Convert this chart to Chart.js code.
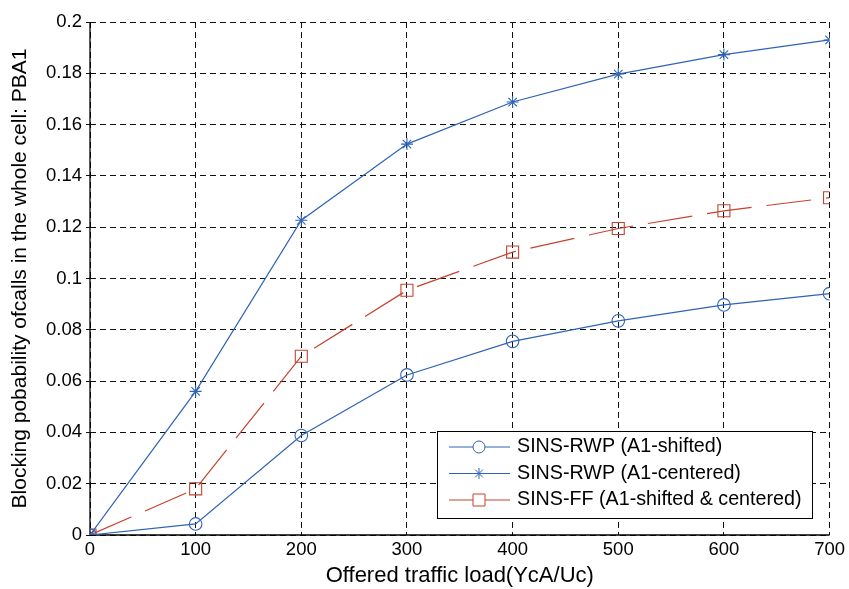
<!DOCTYPE html>
<html>
<head>
<meta charset="utf-8">
<script src="https://cdn.jsdelivr.net/npm/chart.js@4/dist/chart.umd.min.js"></script>
<style>
  html, body { margin: 0; padding: 0; background: #fff; }
  #wrap { width: 849px; height: 589px; position: relative; }
</style>
</head>
<body>
<div id="wrap"><canvas id="c" width="849" height="589"></canvas></div>
<script>
// ---- data ----
const loads = [0, 100, 200, 300, 400, 500, 600, 700];
const rwpShifted  = [0, 0.0043, 0.0388, 0.0624, 0.0755, 0.0835, 0.0897, 0.0941];
const rwpCentered = [0, 0.0560, 0.1227, 0.1524, 0.1688, 0.1797, 0.1873, 0.1930];
const ffBoth      = [0, 0.0180, 0.0697, 0.0954, 0.1103, 0.1195, 0.1264, 0.1315];
const seriesLabels = ['SINS-RWP (A1-shifted)', 'SINS-RWP (A1-centered)', 'SINS-FF (A1-shifted & centered)'];
const xTitle = 'Offered traffic load(YcA/Uc)';
const yTitle = 'Blocking pobability ofcalls in the whole cell: PBA1';
const yMin = 0, yMax = 0.2, yStep = 0.02;
const xMin = 0, xMax = 700, xStep = 100;

const BLUE = '#2f63b6';
const RED = '#c4432f';
const FONT = "'Liberation Sans', Arial, sans-serif";

function toXY(vals) { return vals.map((v, i) => ({ x: loads[i], y: v })); }

// solid left & bottom axis lines (gridlines are dashed)
const axisPlugin = {
  id: 'solidAxes',
  beforeDatasetsDraw(chart) {
    const { ctx, chartArea: a } = chart;
    ctx.save();
    ctx.strokeStyle = '#000';
    ctx.lineWidth = 1.3;
    ctx.setLineDash([]);
    ctx.beginPath();
    ctx.moveTo(a.left, a.top);
    ctx.lineTo(a.left, a.bottom);
    ctx.lineTo(a.right, a.bottom);
    ctx.stroke();
    ctx.restore();
  }
};

const legendPlugin = {
  id: 'matlabLegend',
  afterDraw(chart) {
    const ctx = chart.ctx;
    const bx = 437, by = 431, bw = 375, bh = 87;
    ctx.save();
    ctx.fillStyle = '#fff';
    ctx.fillRect(bx, by, bw, bh);
    ctx.strokeStyle = '#000';
    ctx.lineWidth = 1;
    ctx.strokeRect(bx + 0.5, by + 0.5, bw, bh);
    const rows = [447, 473.5, 500];
    chart.data.datasets.forEach((ds, i) => {
      const y = rows[i];
      ctx.save();
      ctx.strokeStyle = ds.borderColor;
      ctx.lineWidth = 1;
      ctx.beginPath();
      ctx.moveTo(449, y);
      ctx.lineTo(510, y);
      ctx.stroke();
      const cx = 479;
      ctx.beginPath();
      if (ds.pointStyle === 'circle') {
        ctx.arc(cx, y, 6, 0, Math.PI * 2);
        ctx.fillStyle = '#fff';
        ctx.fill();
      } else if (ds.pointStyle === 'rect') {
        ctx.fillStyle = '#fff';
        ctx.fillRect(cx - 6, y - 6, 12, 12);
        ctx.rect(cx - 6, y - 6, 12, 12);
      } else {
        const r = 5.5;
        for (let k = 0; k < 4; k++) {
          const a = k * Math.PI / 4;
          ctx.moveTo(cx - r * Math.cos(a), y - r * Math.sin(a));
          ctx.lineTo(cx + r * Math.cos(a), y + r * Math.sin(a));
        }
      }
      ctx.stroke();
      ctx.restore();
      ctx.fillStyle = '#000';
      ctx.font = '19.7px ' + FONT;
      ctx.textBaseline = 'middle';
      ctx.textAlign = 'left';
      ctx.fillText(ds.label, 517, y);
    });
    ctx.restore();
  }
};

new Chart(document.getElementById('c'), {
  type: 'line',
  data: {
    datasets: [
      {
        label: seriesLabels[0], data: toXY(rwpShifted),
        borderColor: BLUE, backgroundColor: 'transparent', borderWidth: 1.2,
        pointStyle: 'circle', pointRadius: 6.3, pointBorderWidth: 1.1,
        pointBackgroundColor: 'transparent', pointBorderColor: BLUE, tension: 0
      },
      {
        label: seriesLabels[1], data: toXY(rwpCentered),
        borderColor: BLUE, backgroundColor: 'transparent', borderWidth: 1.2,
        pointStyle: 'star', pointRadius: 6, pointBorderWidth: 1.1,
        pointBackgroundColor: 'transparent', pointBorderColor: BLUE, tension: 0
      },
      {
        label: seriesLabels[2], data: toXY(ffBoth),
        borderColor: RED, backgroundColor: 'transparent', borderWidth: 1.2,
        borderDash: [45, 15],
        pointStyle: 'rect', pointRadius: 8.5, pointBorderWidth: 1.1,
        pointBackgroundColor: 'transparent', pointBorderColor: RED, tension: 0
      }
    ]
  },
  options: {
    responsive: false,
    animation: false,
    devicePixelRatio: 1,
    layout: { padding: { left: 0, right: 18, top: 22, bottom: 0 } },
    plugins: { legend: { display: false }, tooltip: { enabled: false } },
    scales: {
      x: {
        type: 'linear', min: xMin, max: xMax,
        ticks: { stepSize: xStep, color: '#000', font: { family: FONT, size: 18.5 }, padding: 4, maxRotation: 0 },
        grid: { color: '#111', lineWidth: 1, drawTicks: false },
        border: { display: false, dash: [6, 4] },
        title: { display: true, text: xTitle, color: '#000', font: { family: FONT, size: 22 }, padding: { top: 0, bottom: 0 } },
        afterFit(scale) { scale.height = 54; }
      },
      y: {
        type: 'linear', min: yMin, max: yMax,
        ticks: {
          stepSize: yStep, color: '#000', font: { family: FONT, size: 18.5 }, padding: 4,
          callback: (v) => String(+v.toFixed(2))
        },
        grid: { color: '#111', lineWidth: 1, drawTicks: true, tickLength: 4 },
        border: { display: false, dash: [6, 4] },
        title: { display: true, text: yTitle, color: '#000', font: { family: FONT, size: 21 }, padding: { top: 7.5, bottom: 0 } },
        afterFit(scale) { scale.width = 90; }
      }
    }
  },
  plugins: [axisPlugin, legendPlugin]
});
</script>
</body>
</html>
